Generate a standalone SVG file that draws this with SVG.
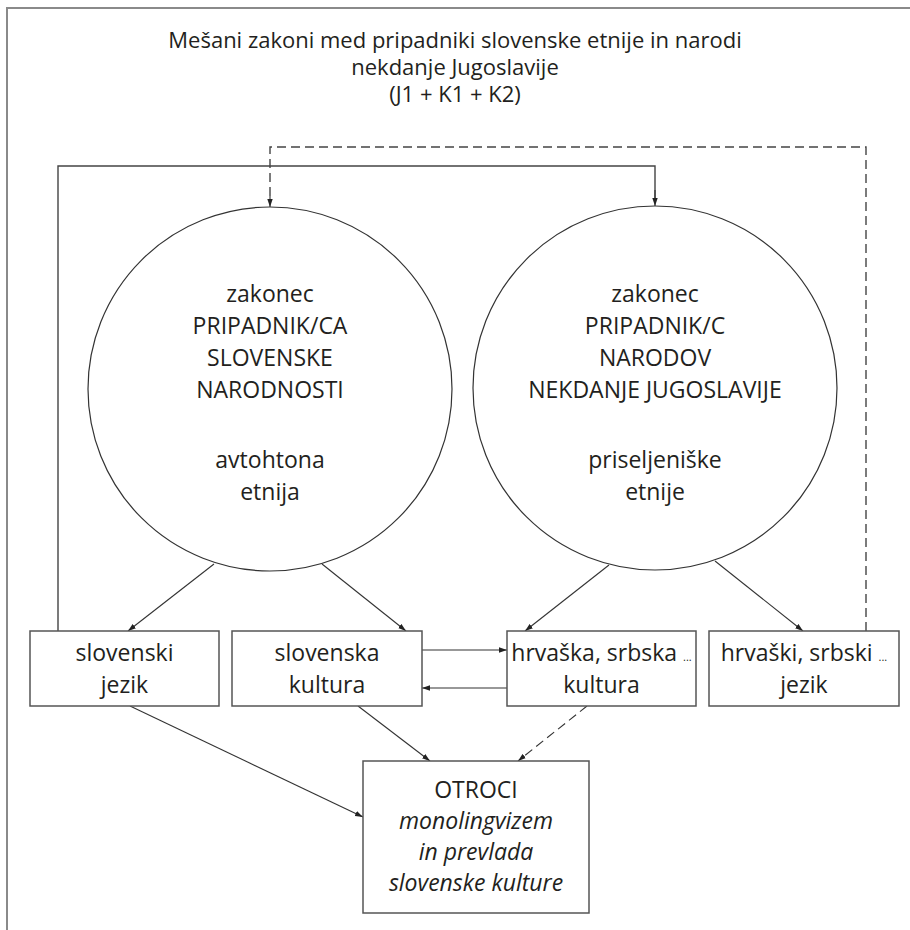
<svg xmlns="http://www.w3.org/2000/svg" width="910" height="930" viewBox="0 0 910 930">
<defs>
<marker id="ah" markerUnits="userSpaceOnUse" markerWidth="9" markerHeight="6" refX="8" refY="3" orient="auto">
<path d="M0,0.3 L8,3 L0,5.7 z" fill="#222"/>
</marker>
<style>
.frame{fill:none;stroke:#8a8a8a;stroke-width:2}
.box{fill:#fff;stroke:#555;stroke-width:1.5}
.circ{fill:#fff;stroke:#333;stroke-width:1.2}
.ln{fill:none;stroke:#333;stroke-width:1.1;marker-end:url(#ah)}
.ln0{fill:none;stroke:#444;stroke-width:1.4}
.dash{stroke-dasharray:9 5}
text{font-family:"Open Sans","Noto Sans","Liberation Sans",sans-serif;fill:#231f20;text-anchor:middle}
.t{font-size:22px}
.n{font-size:23px}
.i{font-style:italic}
.sm{font-size:11px}
</style>
</defs>
<rect x="0" y="0" width="910" height="930" fill="#fff"/>
<path class="frame" d="M7,930 V8 H910"/>
<g id="title">
<text class="t" x="455" y="48">Mešani zakoni med pripadniki slovenske etnije in narodi</text>
<text class="t" x="455" y="75">nekdanje Jugoslavije</text>
<text class="t" x="455" y="102">(J1 + K1 + K2)</text>
</g>
<g id="connectors">
<path class="ln0" d="M58,631 V166 H655 V199"/>
<path class="ln" d="M655,190 V206"/>
<path class="ln0 dash" d="M866,631 V147 H270 V199"/>
<path class="ln" d="M270,196 V207"/>
<path class="ln" d="M214,564 L128,631"/>
<path class="ln" d="M322,564 L406,631"/>
<path class="ln" d="M609,565 L525,631"/>
<path class="ln" d="M715,561 L803,631"/>
<path class="ln" d="M422,650 H507"/>
<path class="ln" d="M507,688 H422"/>
<path class="ln" d="M130,706 L363,817"/>
<path class="ln" d="M358,706 L430,761"/>
<path class="ln dash" d="M587,706 L518,761"/>
</g>
<g id="circle-slo">
<circle class="circ" cx="270" cy="389" r="182"/>
<text class="n" x="270" y="302">zakonec</text>
<text class="n" x="270" y="334">PRIPADNIK/CA</text>
<text class="n" x="270" y="366">SLOVENSKE</text>
<text class="n" x="270" y="398">NARODNOSTI</text>
<text class="n" x="270" y="468">avtohtona</text>
<text class="n" x="270" y="500">etnija</text>
</g>
<g id="circle-yu">
<circle class="circ" cx="655" cy="388" r="182"/>
<text class="n" x="655" y="302">zakonec</text>
<text class="n" x="655" y="334">PRIPADNIK/C</text>
<text class="n" x="655" y="366">NARODOV</text>
<text class="n" x="655" y="398">NEKDANJE JUGOSLAVIJE</text>
<text class="n" x="655" y="468">priseljeniške</text>
<text class="n" x="655" y="500">etnije</text>
</g>
<g id="box-slo-jezik">
<rect class="box" x="30" y="631" width="189" height="75"/>
<text class="n" x="124.5" y="661">slovenski</text>
<text class="n" x="124.5" y="693">jezik</text>
</g>
<g id="box-slo-kultura">
<rect class="box" x="232" y="631" width="190" height="75"/>
<text class="n" x="327" y="661">slovenska</text>
<text class="n" x="327" y="693">kultura</text>
</g>
<g id="box-yu-kultura">
<rect class="box" x="507" y="631" width="189" height="75"/>
<text class="n" x="601.5" y="661">hrvaška, srbska <tspan class="sm">...</tspan></text>
<text class="n" x="601.5" y="693">kultura</text>
</g>
<g id="box-yu-jezik">
<rect class="box" x="709" y="631" width="190" height="75"/>
<text class="n" x="804" y="661">hrvaški, srbski <tspan class="sm">...</tspan></text>
<text class="n" x="804" y="693">jezik</text>
</g>
<g id="box-otroci">
<rect class="box" x="363" y="761" width="226" height="152"/>
<text class="n" x="476" y="798">OTROCI</text>
<text class="n i" x="476" y="829">monolingvizem</text>
<text class="n i" x="476" y="860">in prevlada</text>
<text class="n i" x="476" y="891">slovenske kulture</text>
</g>
</svg>
